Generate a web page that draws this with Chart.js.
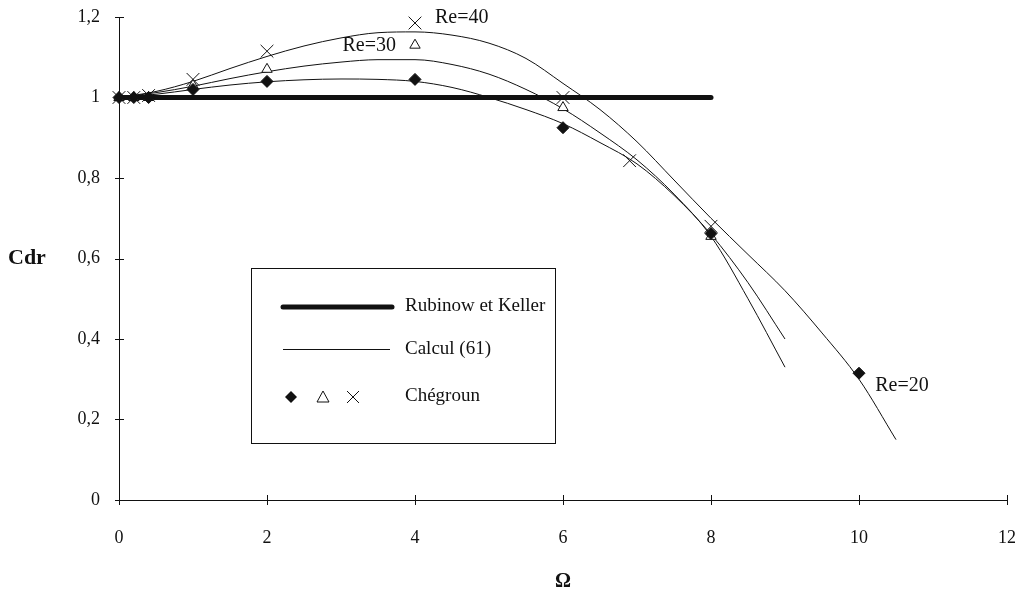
<!DOCTYPE html>
<html>
<head>
<meta charset="utf-8">
<script src="https://cdn.jsdelivr.net/npm/chart.js@4.4.1/dist/chart.umd.min.js"></script>
<style>
  html, body { margin: 0; padding: 0; background: #fff; }
  #chart { display: block; }
</style>
</head>
<body>
<canvas id="chart" width="1025" height="602"></canvas>
<script>
// axes
const xTicks = [0, 2, 4, 6, 8, 10, 12];
const yTicks = [0, 0.2, 0.4, 0.6, 0.8, 1, 1.2];
const yTickLabels = ['0', '0,2', '0,4', '0,6', '0,8', '1', '1,2'];

// Rubinow et Keller
const rkX = [0, 8];
const rkY = [1, 1];

// Calcul (61), one curve per Reynolds number
const calcX = [0, 0.5, 1, 1.5, 2, 2.5, 3, 3.5, 4, 4.5, 5, 5.5, 6, 6.5, 7, 7.5, 8, 8.5, 9, 9.5, 10, 10.5];
const calc20 = [1.0, 1.008, 1.02, 1.031, 1.039, 1.044, 1.046, 1.045, 1.04, 1.025, 1.0, 0.97, 0.935, 0.888, 0.835, 0.757, 0.66, 0.54, 0.40];
const calc30 = [1.0, 1.012, 1.028, 1.047, 1.064, 1.078, 1.088, 1.094, 1.094, 1.082, 1.058, 1.02, 0.972, 0.912, 0.845, 0.76, 0.655, 0.50, 0.33];
const calc40 = [1.0, 1.015, 1.04, 1.072, 1.102, 1.128, 1.148, 1.161, 1.163, 1.155, 1.135, 1.097, 1.035, 0.97, 0.89, 0.795, 0.70, 0.61, 0.52, 0.415, 0.30, 0.15];

// Chégroun
const cheg20X = [0, 0.2, 0.4, 1, 2, 4, 6, 8, 10];
const cheg20Y = [1, 1, 1, 1.02, 1.04, 1.045, 0.925, 0.662, 0.315];
const cheg30X = [0, 0.2, 0.4, 1, 2, 4, 6, 8];
const cheg30Y = [1, 1, 1, 1.03, 1.07, 1.13, 0.975, 0.655];
const cheg40X = [0, 0.2, 0.4, 1, 2, 4, 6, 6.9, 8];
const cheg40Y = [1, 1, 1.005, 1.045, 1.115, 1.185, 1.0, 0.843, 0.68];

const reLabels = ['Re=20', 'Re=30', 'Re=40'];

const INK = '#111';
const SERIF = '"Liberation Serif", "Times New Roman", serif';

const pts = (xs, ys) => ys.map((v, i) => ({ x: xs[i], y: v }));

// tick marks crossing both sides of each axis
const axisTicks = {
  id: 'axisTicks',
  afterDraw(chart) {
    const { ctx, scales: { x, y } } = chart;
    ctx.save();
    ctx.strokeStyle = INK;
    ctx.lineWidth = 1;
    ctx.beginPath();
    yTicks.forEach(v => {
      const py = Math.round(y.getPixelForValue(v)) + 0.5;
      ctx.moveTo(x.left - 4, py);
      ctx.lineTo(x.left + 5, py);
    });
    xTicks.forEach(v => {
      const px = Math.round(x.getPixelForValue(v)) + 0.5;
      ctx.moveTo(px, y.bottom - 5);
      ctx.lineTo(px, y.bottom + 5);
    });
    ctx.stroke();

    // horizontal y title
    ctx.fillStyle = INK;
    ctx.font = 'bold 22px ' + SERIF;
    ctx.textAlign = 'left';
    ctx.textBaseline = 'middle';
    ctx.fillText('Cdr', 8, y.getPixelForValue(0.6));
    ctx.restore();
  }
};

// Reynolds number labels next to the measured points
const reText = {
  id: 'reText',
  afterDatasetsDraw(chart) {
    const { ctx, scales: { x, y } } = chart;
    const spots = [
      [reLabels[0], 10.22, 0.285],
      [reLabels[1], 3.02, 1.128],
      [reLabels[2], 4.27, 1.197]
    ];
    ctx.save();
    ctx.fillStyle = INK;
    ctx.font = '20px ' + SERIF;
    ctx.textAlign = 'left';
    ctx.textBaseline = 'middle';
    spots.forEach(([t, vx, vy]) => ctx.fillText(t, x.getPixelForValue(vx), y.getPixelForValue(vy)));
    ctx.restore();
  }
};

function diamond(ctx, cx, cy, r) {
  ctx.beginPath();
  ctx.moveTo(cx, cy - r); ctx.lineTo(cx + r, cy); ctx.lineTo(cx, cy + r); ctx.lineTo(cx - r, cy);
  ctx.closePath();
  ctx.fill();
}

// boxed legend inside the plot
const boxLegend = {
  id: 'boxLegend',
  afterDraw(chart) {
    const { ctx } = chart;
    ctx.save();
    ctx.strokeStyle = INK;
    ctx.fillStyle = INK;
    ctx.lineWidth = 1;
    ctx.strokeRect(251.5, 268.5, 304, 175);

    ctx.lineCap = 'round';
    ctx.lineWidth = 5;
    ctx.beginPath(); ctx.moveTo(283, 307); ctx.lineTo(392, 307); ctx.stroke();
    ctx.lineCap = 'butt';
    ctx.lineWidth = 1;
    ctx.beginPath(); ctx.moveTo(283, 349.5); ctx.lineTo(390, 349.5); ctx.stroke();

    diamond(ctx, 291, 397, 6);
    ctx.beginPath();
    ctx.moveTo(323, 391); ctx.lineTo(329, 402); ctx.lineTo(317, 402); ctx.closePath();
    ctx.stroke();
    ctx.beginPath();
    ctx.moveTo(347, 391); ctx.lineTo(359, 403);
    ctx.moveTo(359, 391); ctx.lineTo(347, 403);
    ctx.stroke();

    ctx.font = '19px ' + SERIF;
    ctx.textAlign = 'left';
    ctx.textBaseline = 'middle';
    ctx.fillText('Rubinow et Keller', 405, 306);
    ctx.fillText('Calcul (61)', 405, 349);
    ctx.fillText('Chégroun', 405, 396);
    ctx.restore();
  }
};

const markerSet = (data, style, radius, fill) => ({
  data,
  showLine: false,
  pointStyle: style,
  pointRadius: radius,
  pointHoverRadius: radius,
  pointBackgroundColor: fill,
  pointBorderColor: INK,
  pointBorderWidth: 1,
  clip: false,
  order: 0
});

const curveSet = (ys) => ({
  data: pts(calcX, ys),
  showLine: true,
  borderColor: INK,
  borderWidth: 1,
  pointRadius: 0,
  cubicInterpolationMode: 'monotone',
  clip: false,
  order: 1
});

// fixed axis boxes so the plot area lands where wanted
const fitX = s => {
  s.height = 102;
  s.paddingLeft = 0; s.paddingRight = 0;
};
const fitY = s => {
  s.width = 119;
  s.paddingTop = 0; s.paddingBottom = 0;
};

new Chart(document.getElementById('chart'), {
  type: 'scatter',
  data: {
    datasets: [
      markerSet(pts(cheg20X, cheg20Y), 'rectRot', 6, INK),
      markerSet(pts(cheg30X, cheg30Y), 'triangle', 6, '#fff'),
      markerSet(pts(cheg40X, cheg40Y), 'crossRot', 9, INK),
      curveSet(calc20),
      curveSet(calc30),
      curveSet(calc40),
      {
        data: pts(rkX, rkY),
        showLine: true,
        borderColor: INK,
        borderWidth: 5,
        borderCapStyle: 'round',
        pointRadius: 0,
        clip: false,
        order: 2
      }
    ]
  },
  options: {
    responsive: false,
    animation: false,
    devicePixelRatio: 1,
    layout: { padding: { left: 0, top: 17, right: 18, bottom: 0 } },
    plugins: {
      legend: { display: false },
      tooltip: { enabled: false }
    },
    scales: {
      x: {
        type: 'linear',
        min: 0,
        max: 12,
        afterBuildTicks: s => { s.ticks = xTicks.map(v => ({ value: v })); },
        afterFit: fitX,
        grid: { display: false, drawTicks: false },
        border: { display: true, color: INK, width: 1 },
        ticks: {
          color: INK,
          padding: 27,
          maxRotation: 0,
          font: { family: SERIF, size: 18 }
        },
        title: {
          display: true,
          text: 'Ω',
          color: INK,
          font: { family: SERIF, size: 20, weight: 'bold' },
          padding: { top: 0, bottom: 8 }
        }
      },
      y: {
        type: 'linear',
        min: 0,
        max: 1.2,
        afterBuildTicks: s => { s.ticks = yTicks.map(v => ({ value: v })); },
        afterFit: fitY,
        grid: { display: false, drawTicks: false },
        border: { display: true, color: INK, width: 1 },
        ticks: {
          color: INK,
          padding: 19,
          font: { family: SERIF, size: 18 },
          callback: (v, i) => yTickLabels[i]
        }
      }
    }
  },
  plugins: [axisTicks, reText, boxLegend]
});
</script>
</body>
</html>
